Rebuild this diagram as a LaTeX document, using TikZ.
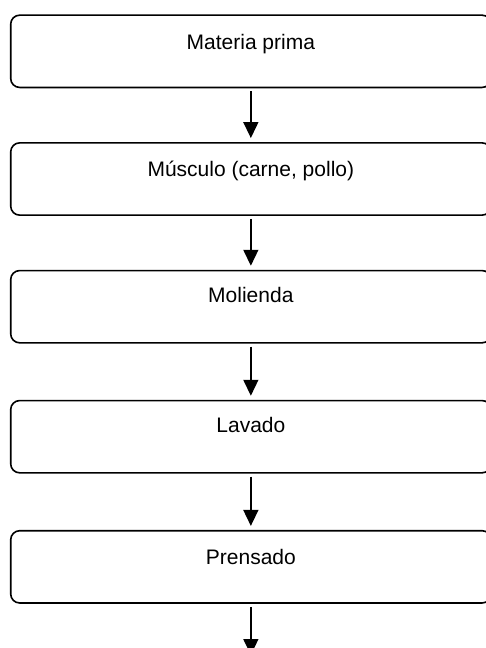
\documentclass[tikz,border=0pt]{standalone}
\usepackage{fontspec}
\setmainfont{Liberation Sans}
\usetikzlibrary{arrows.meta}
\begin{document}
\begin{tikzpicture}[x=1pt,y=-1pt,
  stepbox/.style={draw=black,line width=1.6pt,rounded corners=9pt,minimum width=480.3pt,minimum height=72.3pt,inner sep=0pt},
  steptext/.style={anchor=base,inner sep=0pt,font=\fontsize{21pt}{25pt}\selectfont},
  flow/.style={line width=1.5pt,-{Triangle[length=16pt,width=15pt]},shorten <=3pt,shorten >=4pt}]
\useasboundingbox (0,0) rectangle (485,648);
\node[stepbox] (b1) at (250.85,51.3) {};
\node[stepbox] (b2) at (250.85,179) {};
\node[stepbox] (b3) at (250.85,306.7) {};
\node[stepbox] (b4) at (250.85,436.7) {};
\node[stepbox] (b5) at (250.85,566.85) {};
\node[steptext] (t1) at (250.85,49) {Materia prima};
\node[steptext] (t2) at (250.85,176.3) {Músculo (carne, pollo)};
\node[steptext] (t3) at (250.85,302) {Molienda};
\node[steptext] (t4) at (250.85,432.3) {Lavado};
\node[steptext] (t5) at (250.85,564) {Prensado};
\coordinate (end) at (250.85,659);
\draw[flow] (b1.south) -- (b2.north);
\draw[flow] (b2.south) -- (b3.north);
\draw[flow] (b3.south) -- (b4.north);
\draw[flow] (b4.south) -- (b5.north);
\draw[flow] (b5.south) -- (end);
\end{tikzpicture}
\end{document}
